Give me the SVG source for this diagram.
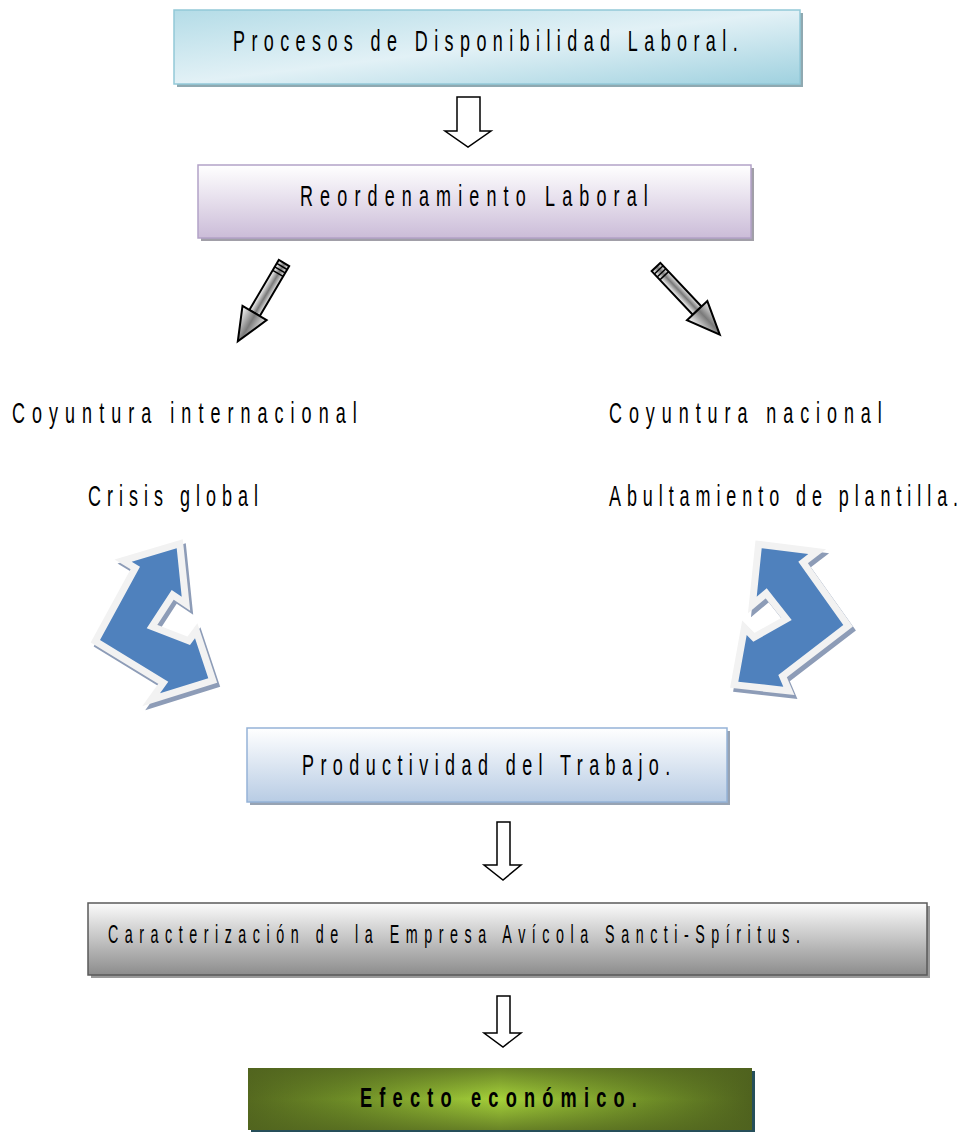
<svg xmlns="http://www.w3.org/2000/svg" width="964" height="1132" viewBox="0 0 964 1132">
<defs>
<style>
.t{font-family:"Liberation Sans",Arial,sans-serif;font-size:29px;fill:#000}
.tc{font-family:"Liberation Sans",Arial,sans-serif;font-size:26px;fill:#000}
.b{font-weight:bold;font-size:28px}
.hollow{fill:#fff;stroke:#000;stroke-width:1.5;stroke-linejoin:miter}
</style>
<linearGradient id="g1" x1="0" y1="0" x2="1" y2="1">
<stop offset="0" stop-color="#b4dce7"/><stop offset="0.5" stop-color="#e2f1f6"/><stop offset="1" stop-color="#9fd1df"/>
</linearGradient>
<linearGradient id="g2" x1="0" y1="0" x2="0" y2="1">
<stop offset="0" stop-color="#ffffff"/><stop offset="1" stop-color="#cbbcd8"/>
</linearGradient>
<linearGradient id="g3" x1="0" y1="0" x2="0" y2="1">
<stop offset="0" stop-color="#ffffff"/><stop offset="1" stop-color="#b8cce4"/>
</linearGradient>
<linearGradient id="g4" x1="0" y1="0" x2="0" y2="1">
<stop offset="0" stop-color="#fbfbfb"/><stop offset="1" stop-color="#8c8c8c"/>
</linearGradient>
<linearGradient id="g5" x1="0" y1="0" x2="1" y2="0">
<stop offset="0" stop-color="#55691f"/><stop offset="0.2" stop-color="#6f8e27"/><stop offset="0.5" stop-color="#a6d23a"/><stop offset="0.8" stop-color="#6f8e27"/><stop offset="1" stop-color="#4f621e"/>
</linearGradient>
<linearGradient id="g5v" x1="0" y1="0" x2="0" y2="1">
<stop offset="0" stop-color="#4f621e" stop-opacity="0.7"/><stop offset="0.5" stop-color="#4f621e" stop-opacity="0"/><stop offset="1" stop-color="#4f621e" stop-opacity="0.7"/>
</linearGradient>
<linearGradient id="pen" x1="0" y1="0" x2="1" y2="0">
<stop offset="0" stop-color="#ffffff"/><stop offset="0.55" stop-color="#7a7a7a"/><stop offset="1" stop-color="#e8e8e8"/>
</linearGradient>
</defs>

<g id="n1">
<rect x="177" y="13" width="626" height="74" fill="#8fa9b1"/>
<rect x="174" y="10" width="626" height="74" fill="url(#g1)" stroke="#93c9d8" stroke-width="1.5"/>
<text class="t" transform="translate(233 51) scale(0.62 1)" textLength="814" lengthAdjust="spacing">Procesos de Disponibilidad Laboral.</text>
</g>

<g id="n2">
<rect x="201" y="168" width="553" height="73" fill="#a19fa8"/>
<rect x="198" y="165" width="553" height="73" fill="url(#g2)" stroke="#b3a2c7" stroke-width="1.5"/>
<text class="t" transform="translate(300 206) scale(0.62 1)" textLength="561" lengthAdjust="spacing">Reordenamiento Laboral</text>
</g>

<g id="n3">
<text class="t" transform="translate(12 423) scale(0.62 1)" textLength="556" lengthAdjust="spacing">Coyuntura internacional</text>
<text class="t" transform="translate(88 506) scale(0.62 1)" textLength="274" lengthAdjust="spacing">Crisis global</text>
</g>

<g id="n4">
<text class="t" transform="translate(609 423) scale(0.62 1)" textLength="440" lengthAdjust="spacing">Coyuntura nacional</text>
<text class="t" transform="translate(609 506) scale(0.62 1)" textLength="563" lengthAdjust="spacing">Abultamiento de plantilla.</text>
</g>

<g id="n5">
<rect x="250" y="731" width="480" height="74" fill="#97a3b3"/>
<rect x="247" y="728" width="480" height="74" fill="url(#g3)" stroke="#95b3d7" stroke-width="1.5"/>
<text class="t" transform="translate(302 775) scale(0.62 1)" textLength="594" lengthAdjust="spacing">Productividad del Trabajo.</text>
</g>

<g id="n6">
<rect x="91" y="906" width="839" height="72" fill="#9a9a9a"/>
<rect x="88" y="903" width="839" height="72" fill="url(#g4)" stroke="#5a5a5a" stroke-width="1.5"/>
<text class="tc" transform="translate(108 943) scale(0.55 1)" textLength="1258" lengthAdjust="spacing">Caracterización de la Empresa Avícola Sancti-Spíritus.</text>
</g>

<g id="n7">
<rect x="251" y="1071" width="504" height="62" fill="#264f5a"/>
<rect x="248" y="1068" width="504" height="62" fill="url(#g5)"/>
<rect x="248" y="1068" width="504" height="62" fill="url(#g5v)"/>
<text class="t b" transform="translate(360 1107) scale(0.65 1)" textLength="426" lengthAdjust="spacing">Efecto económico.</text>
</g>

<g id="connectors">
<polygon class="hollow" points="457,97 480,97 480,131 491,131 468,147 445,131 457,131"/>
<polygon class="hollow" points="497,822 510,822 510,865 521,865 503,880 484,865 497,865"/>
<polygon class="hollow" points="497,996 510,996 510,1033 521,1033 503,1047 484,1033 497,1033"/>

<g transform="translate(284 263) rotate(30.5)">
<rect x="-6" y="0" width="12" height="58" fill="url(#pen)" stroke="#000" stroke-width="2"/>
<line x1="-6" y1="4" x2="6" y2="4" stroke="#000" stroke-width="1.5"/>
<line x1="-6" y1="8" x2="6" y2="8" stroke="#000" stroke-width="1.5"/>
<line x1="-6" y1="12" x2="6" y2="12" stroke="#000" stroke-width="1.5"/>
<polygon points="-14,58 14,58 0,91" fill="url(#pen)" stroke="#000" stroke-width="2"/>
</g>
<g transform="translate(656 267) rotate(-43.3)">
<rect x="-6" y="0" width="12" height="60" fill="url(#pen)" stroke="#000" stroke-width="2"/>
<line x1="-6" y1="4" x2="6" y2="4" stroke="#000" stroke-width="1.5"/>
<line x1="-6" y1="8" x2="6" y2="8" stroke="#000" stroke-width="1.5"/>
<line x1="-6" y1="12" x2="6" y2="12" stroke="#000" stroke-width="1.5"/>
<polygon points="-14,60 14,60 0,93" fill="url(#pen)" stroke="#000" stroke-width="2"/>
</g>

<g id="cycleL">
<polygon transform="translate(3 4)" points="176.7,548.3 181.7,596.7 171.7,590 146.7,628.3 190,645 195,638.3 208.3,678.3 160,693.3 168.3,681.7 100,640 140,566.7 131.7,561.7" fill="#8d9cb7" stroke="#8d9cb7" stroke-width="14" stroke-linejoin="miter"/>
<polygon points="176.7,548.3 181.7,596.7 171.7,590 146.7,628.3 190,645 195,638.3 208.3,678.3 160,693.3 168.3,681.7 100,640 140,566.7 131.7,561.7" fill="#4f81bd" stroke="#f2f2f2" stroke-width="14" stroke-linejoin="miter" paint-order="stroke"/>
</g>
<g id="cycleR">
<polygon transform="translate(3 4)" points="761.7,548.3 808.3,554 798.3,561.7 843.3,625 778.3,675 783.3,686.7 738.3,681.7 746.7,635 753.3,641.7 791.7,620 766.7,588.3 756.7,596.7" fill="#8d9cb7" stroke="#8d9cb7" stroke-width="14" stroke-linejoin="miter"/>
<polygon points="761.7,548.3 808.3,554 798.3,561.7 843.3,625 778.3,675 783.3,686.7 738.3,681.7 746.7,635 753.3,641.7 791.7,620 766.7,588.3 756.7,596.7" fill="#4f81bd" stroke="#f2f2f2" stroke-width="14" stroke-linejoin="miter" paint-order="stroke"/>
</g>
</g>
</svg>
